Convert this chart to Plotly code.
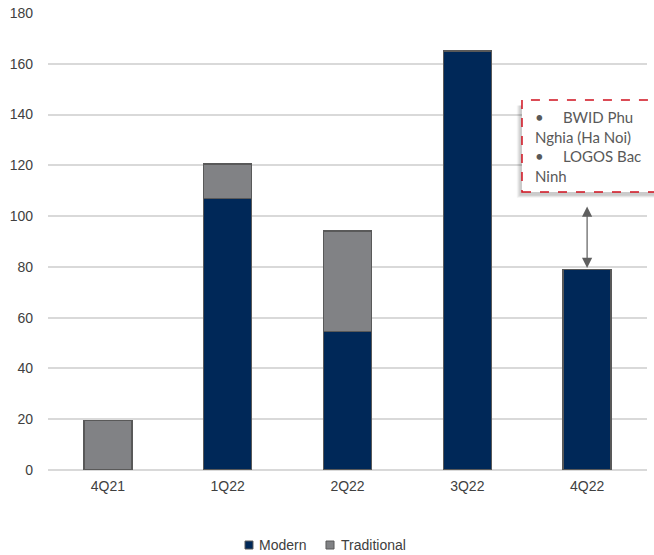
import plotly.graph_objects as go

quarters = ["4Q21", "1Q22", "2Q22", "3Q22", "4Q22"]
modern = [0, 107, 54.5, 165, 79]
traditional = [19.5, 13.5, 39.7, 0, 0]
y_ticks = [0, 20, 40, 60, 80, 100, 120, 140, 160, 180]
gap = "\u00a0" * 5
note_lines = ["•" + gap + "BWID Phu", "Nghia (Ha Noi)", "•" + gap + "LOGOS Bac", "Ninh"]
arrow_span = [79.6, 104.4]
series_names = ["Modern", "Traditional"]
series_colors = ["#002858", "#818285"]

outline = dict(color="#595959", width=1.5)

fig = go.Figure()
fig.add_trace(go.Bar(name=series_names[0], x=quarters, y=modern,
                     marker=dict(color=series_colors[0], line=outline)))
fig.add_trace(go.Bar(name=series_names[1], x=quarters, y=traditional,
                     marker=dict(color=series_colors[1], line=outline)))

# callout box: soft drop shadow, then the dashed red frame
for i, alpha in enumerate([0.05, 0.07, 0.09]):
    d = (3 - i) * 0.0022
    fig.add_shape(type="rect", xref="paper", yref="paper",
                  x0=0.7913 - 0.002 - d, x1=1.05, y0=0.6083 - 0.006 - d, y1=0.8096 - 0.012,
                  fillcolor=f"rgba(0,0,0,{alpha})", line=dict(width=0), layer="above")
fig.add_shape(type="rect", xref="paper", yref="paper",
              x0=0.7913, x1=1.03, y0=0.6083, y1=0.8096,
              fillcolor="white", line=dict(color="#d0101e", width=1.5, dash="dash"),
              layer="above")
fig.add_annotation(xref="paper", yref="paper", x=0.8097, y=0.797,
                   xanchor="left", yanchor="top", align="left", showarrow=False,
                   text="<br>".join(note_lines),
                   font=dict(family="Lato", size=15, color="#595959"))

# double-headed arrow between the callout and the last bar
fig.add_annotation(x="4Q22", y=arrow_span[0], ax="4Q22", ay=arrow_span[1],
                   xref="x", yref="y", axref="x", ayref="y", text="",
                   showarrow=True, arrowhead=2, startarrowhead=2, arrowside="end+start",
                   arrowsize=1.7, startarrowsize=1.7, arrowwidth=1.2, arrowcolor="#5f5f5f")

# legend drawn as small squares with labels under the plot
legend_x = [(0.3289, 0.3422, 0.3489), (0.4641, 0.4775, 0.4858)]
for name, color, (sx0, sx1, tx) in zip(series_names, series_colors, legend_x):
    fig.add_shape(type="rect", xref="paper", yref="paper",
                  x0=sx0, x1=sx1, y0=-0.1729, y1=-0.1554,
                  fillcolor=color, line=dict(color="#595959", width=1))
    fig.add_annotation(xref="paper", yref="paper", x=tx, y=-0.1641,
                       xanchor="left", yanchor="middle", showarrow=False, text=name,
                       font=dict(family="Arial, Liberation Sans", size=14, color="#404040"))

fig.update_layout(
    barmode="stack", bargap=0.6,
    width=654, height=555,
    margin=dict(l=48, r=7, t=13, b=85, autoexpand=False),
    plot_bgcolor="white", paper_bgcolor="white",
    font=dict(family="Arial, Liberation Sans", size=14, color="#404040"),
    showlegend=False,
)
fig.update_yaxes(range=[0, 180], tickvals=y_ticks, showgrid=True, gridcolor="#d9d9d9",
                 gridwidth=1.5, zeroline=True, zerolinecolor="#d9d9d9", zerolinewidth=1.5,
                 ticks="", ticklabelstandoff=14, showline=False)
fig.update_xaxes(showgrid=False, ticks="", showline=False, ticklabelstandoff=6)

fig.write_html("out.html")
